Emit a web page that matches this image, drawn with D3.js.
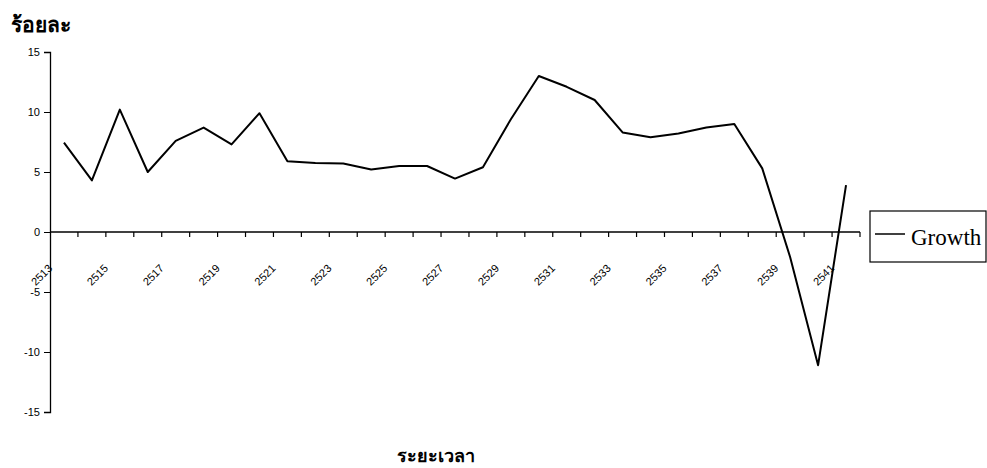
<!DOCTYPE html>
<html>
<head>
<meta charset="utf-8">
<script src="https://cdn.jsdelivr.net/npm/d3@7"></script>
<style>
  body { margin: 0; background: #fff; }
</style>
</head>
<body>
<div id="chart"></div>
<script>
// years (Thai Buddhist era) and growth in percent
const years = d3.range(2513, 2542);
const growth = [7.45, 4.3, 10.2, 5.0, 7.6, 8.7, 7.3, 9.9, 5.9, 5.75,
                5.7, 5.2, 5.5, 5.5, 4.45, 5.4, 9.4, 13.0, 12.1, 11.0,
                8.3, 7.9, 8.2, 8.7, 9.0, 5.3, -2.1, -11.1, 3.9];
const yTicks = [-15, -10, -5, 0, 5, 10, 15];
const labelYears = years.filter((d, i) => i % 2 === 0);

const data = years.map((d, i) => ({year: d, value: growth[i]}));

const width = 987, height = 468;

const svg = d3.select("#chart").append("svg")
  .attr("width", width)
  .attr("height", height);

const x = d3.scaleBand()
  .domain(years)
  .range([50, 860]);

const y = d3.scaleLinear()
  .domain([-15, 15])
  .range([412, 52]);

// y axis
svg.append("g")
  .attr("transform", "translate(50,0)")
  .call(d3.axisLeft(y).tickValues(yTicks).tickSize(6).tickPadding(4).tickFormat(d => String(d)))
  .call(g => g.select(".domain").attr("stroke", "#000").attr("stroke-width", 1.3))
  .call(g => g.selectAll("text").style("font-family", "Arial, 'Liberation Sans', sans-serif").style("font-size", "11px").attr("fill", "#000"));

// x axis at zero
const y0 = y(0);
const xa = svg.append("g");
xa.append("line")
  .attr("x1", x.range()[0]).attr("x2", x.range()[1])
  .attr("y1", y0).attr("y2", y0)
  .attr("stroke", "#000").attr("stroke-width", 1.5);

xa.selectAll(".tick")
  .data(years.slice(1).map(d => x(d)).concat([x.range()[1]]))
  .enter().append("line")
  .attr("x1", d => d).attr("x2", d => d)
  .attr("y1", y0).attr("y2", y0 + 5)
  .attr("stroke", "#000").attr("stroke-width", 1.2);

xa.selectAll(".xlabel")
  .data(labelYears)
  .enter().append("text")
  .attr("transform", d => `translate(${x(d) + x.bandwidth() / 2 - 11}, ${y0 + 37}) rotate(-45)`)
  .style("text-anchor", "end")
  .style("font-family", "Arial, 'Liberation Sans', sans-serif")
  .style("font-size", "11px")
  .text(d => d);

// line
const line = d3.line()
  .x(d => x(d.year) + x.bandwidth() / 2)
  .y(d => y(d.value));

svg.append("path")
  .datum(data)
  .attr("fill", "none")
  .attr("stroke", "#000")
  .attr("stroke-width", 2)
  .attr("stroke-linejoin", "round")
  .attr("d", line);

// titles
svg.append("text")
  .attr("x", 11)
  .attr("y", 32)
  .style("font-family", "'Noto Sans', 'DejaVu Sans', sans-serif")
  .style("font-weight", "bold")
  .style("font-size", "21px")
  .text("ร้อยละ");

svg.append("text")
  .attr("x", 436)
  .attr("y", 462)
  .style("text-anchor", "middle")
  .style("font-family", "'Noto Sans', 'DejaVu Sans', sans-serif")
  .style("font-weight", "bold")
  .style("font-size", "18px")
  .text("ระยะเวลา");

// legend
const legend = svg.append("g");
legend.append("rect")
  .attr("x", 870).attr("y", 211)
  .attr("width", 116).attr("height", 51)
  .attr("fill", "#fff")
  .attr("stroke", "#000")
  .attr("stroke-width", 1.2);
legend.append("line")
  .attr("x1", 875).attr("x2", 905)
  .attr("y1", 234).attr("y2", 234)
  .attr("stroke", "#000").attr("stroke-width", 1.5);
legend.append("text")
  .attr("x", 911)
  .attr("y", 245)
  .style("font-family", "'Liberation Serif', 'Times New Roman', serif")
  .style("font-size", "23px")
  .text("Growth");
</script>
</body>
</html>
